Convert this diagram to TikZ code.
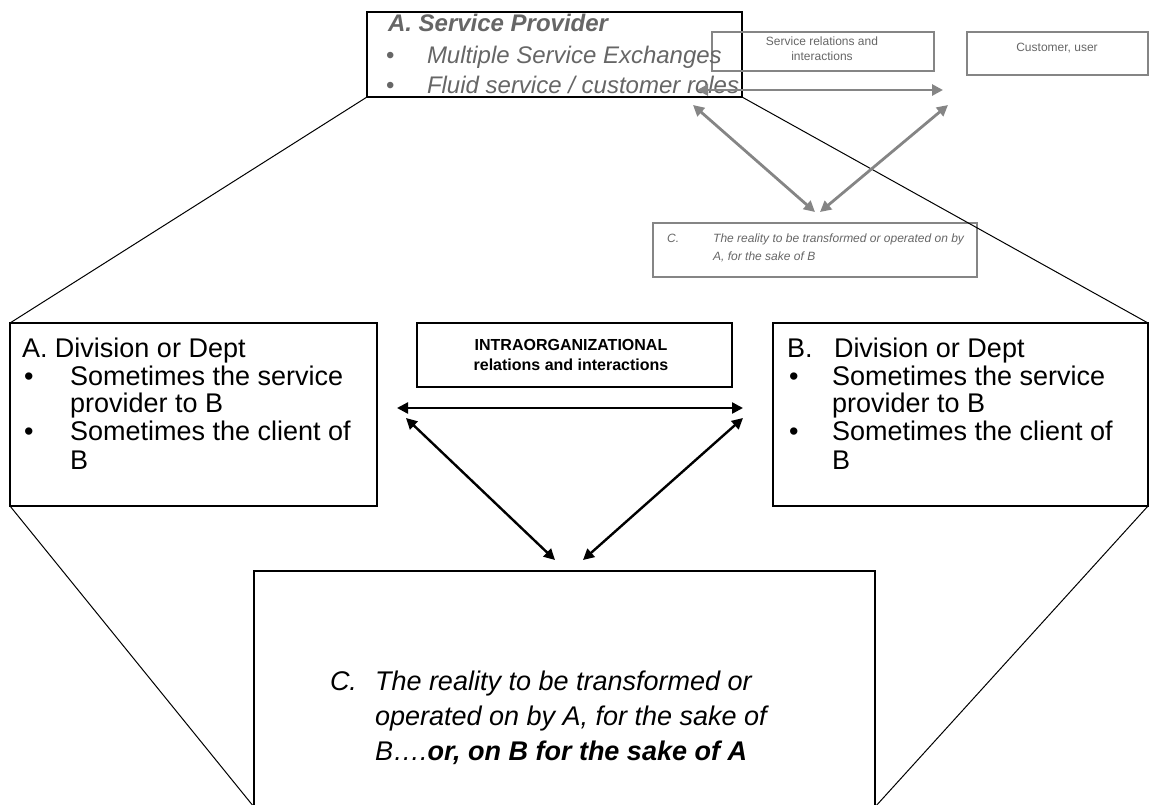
\documentclass[tikz,border=0pt]{standalone}
\usepackage{fontspec}
\setmainfont{Liberation Sans}
\usetikzlibrary{arrows.meta}
\definecolor{softgray}{HTML}{666666}
\definecolor{linegray}{HTML}{858585}

\begin{document}
\begin{tikzpicture}[x=1pt,y=-1pt,
  frame/.style={draw=black, line width=1.3pt, inner sep=0pt, outer sep=0pt, anchor=north west},
  gframe/.style={draw=linegray, line width=1.3pt, inner sep=0pt, outer sep=0pt, anchor=north west},
  txt/.style={anchor=base west, inner sep=0pt, outer sep=0pt},
  bigtxt/.style={txt, font=\fontsize{27}{32}\selectfont},
  bigit/.style={txt, font=\fontsize{27}{32}\selectfont\itshape},
  toptxt/.style={txt, text=softgray, font=\fontsize{24}{29}\selectfont\itshape},
  smalltxt/.style={inner sep=0pt, text=softgray, font=\fontsize{12}{15}\selectfont},
  smallit/.style={smalltxt, anchor=base west, font=\fontsize{12}{15}\selectfont\itshape},
  wire/.style={line width=1pt, black},
  blackarrow/.style={line width=2.4pt, black, {Triangle[length=11pt,width=11pt]}-{Triangle[length=11pt,width=11pt]}},
  grayarrow/.style={line width=2.8pt, linegray, {Triangle[length=11pt,width=11pt]}-{Triangle[length=11pt,width=11pt]}}
]
\useasboundingbox (0,0) rectangle (1149,804);

% ---- frames ----
\node[frame, minimum width=375pt, minimum height=85pt] (prov) at (367,12) {};
\node[gframe, minimum width=222pt, minimum height=39pt] (svc) at (712,32) {};
\node[gframe, minimum width=181pt, minimum height=43pt] (cust) at (967,32) {};
\node[gframe, minimum width=324pt, minimum height=54pt] (real) at (653,223) {};
\node[frame, minimum width=367pt, minimum height=183pt] (diva) at (10,323) {};
\node[frame, minimum width=375pt, minimum height=183pt] (divb) at (773,323) {};
\node[frame, minimum width=315pt, minimum height=64pt] (intra) at (417,323) {};
\node[frame, minimum width=621pt, minimum height=236pt] (target) at (254,571) {};

% ---- fan-out lines ----
\draw[wire] (prov.south west) -- (diva.north west);
\draw[wire] (prov.south east) -- (divb.north east);
\draw[wire] (diva.south west) -- (target.south west);
\draw[wire] (divb.south east) -- (target.south east);

% ---- service provider ----
\node[toptxt, font=\fontsize{24}{29}\selectfont\bfseries\itshape] (provhead) at (388,31) {A. Service Provider};
\node[toptxt, font=\fontsize{24}{29}\selectfont] (provb1) at (386,63) {\textbullet};
\node[toptxt] (provl1) at (427,63) {Multiple Service Exchanges};
\node[toptxt, font=\fontsize{24}{29}\selectfont] (provb2) at (386,93) {\textbullet};
\node[toptxt] (provl2) at (427,93) {Fluid service / customer roles};

% ---- small upper boxes ----
\node[smalltxt, anchor=north, align=center] (svctxt) at (822,37) {Service relations and\\interactions};
\node[smalltxt, anchor=base] (custtxt) at (1057,51) {Customer, user};
\node[smallit] (realc) at (667,242) {C.};
\node[smallit] (realt1) at (713,242) {The reality to be transformed or operated on by};
\node[smallit] (realt2) at (713,260) {A, for the sake of B};

% ---- gray arrows ----
\coordinate (g0) at (697,90);
\coordinate (g1) at (943,90);
\coordinate (g2) at (693,105);
\coordinate (g3) at (815,212);
\coordinate (g4) at (948,105);
\coordinate (g5) at (820,212);
\draw[grayarrow] (g0) -- (g1);
\draw[grayarrow] (g2) -- (g3);
\draw[grayarrow] (g4) -- (g5);

% ---- division A ----
\node[bigtxt] (al0) at (22,357) {A. Division or Dept};
\node[bigtxt] (ab1) at (24,385) {\textbullet};
\node[bigtxt] (al1) at (70,385) {Sometimes the service};
\node[bigtxt] (al2) at (70,412) {provider to B};
\node[bigtxt] (ab2) at (24,440) {\textbullet};
\node[bigtxt] (al3) at (70,440) {Sometimes the client of};
\node[bigtxt] (al4) at (70,469) {B};

% ---- division B ----
\node[bigtxt] (bl0a) at (787,357) {B.};
\node[bigtxt] (bl0) at (834,357) {Division or Dept};
\node[bigtxt] (bb1) at (789,385) {\textbullet};
\node[bigtxt] (bl1) at (832,385) {Sometimes the service};
\node[bigtxt] (bl2) at (832,412) {provider to B};
\node[bigtxt] (bb2) at (789,440) {\textbullet};
\node[bigtxt] (bl3) at (832,440) {Sometimes the client of};
\node[bigtxt] (bl4) at (832,469) {B};

% ---- intraorganizational ----
\node[inner sep=0pt, anchor=north, align=center, font=\fontsize{16}{20}\selectfont\bfseries] (intratxt) at (571,339)
  {INTRAORGANIZATIONAL\\relations and interactions};

% ---- black arrows ----
\coordinate (k0) at (397,408);
\coordinate (k1) at (743,408);
\coordinate (k2) at (406,418);
\coordinate (k3) at (555,560);
\coordinate (k4) at (743,418);
\coordinate (k5) at (583,560);
\draw[blackarrow] (k0) -- (k1);
\draw[blackarrow] (k2) -- (k3);
\draw[blackarrow] (k4) -- (k5);

% ---- reality C ----
\node[bigit] (cl0a) at (330,690) {C.};
\node[bigit] (cl0) at (375,690) {The reality to be transformed or};
\node[bigit] (cl1) at (375,725) {operated on by A, for the sake of};
\node[bigit] (cl2) at (375,760) {B….\textbf{or, on B for the sake of A}};
\end{tikzpicture}
\end{document}
